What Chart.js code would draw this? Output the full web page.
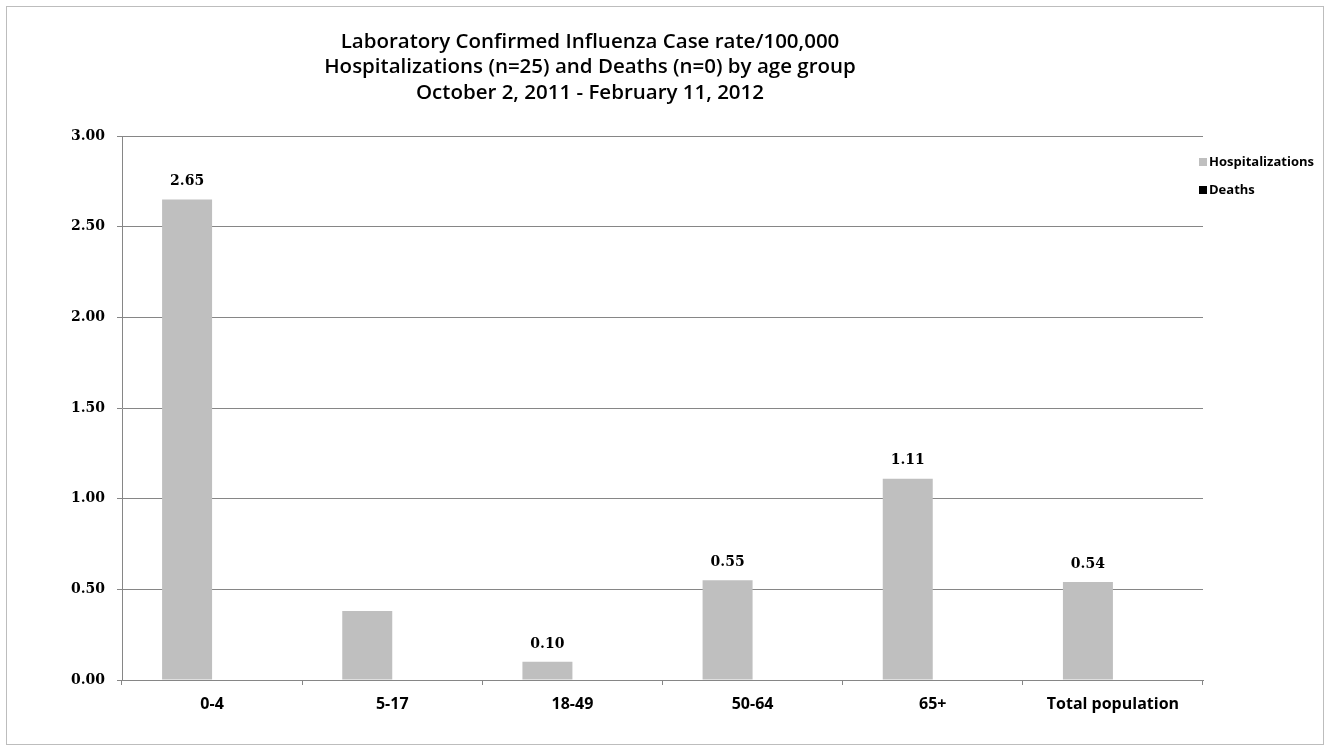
<!DOCTYPE html>
<html lang="en">
<head>
    <meta charset="UTF-8">
    <title>Influenza Case rate</title>
    <script src="https://cdn.jsdelivr.net/npm/chart.js"></script>
    <style>
        html, body { margin: 0; padding: 0; background: #fff; }
        .chart-container { width: 1328px; height: 749px; }
    </style>
</head>
<body>
    <div class="chart-container">
        <canvas id="fluChart"></canvas>
    </div>
    <script>
        // Data
        const titleLines = [
            'Laboratory Confirmed Influenza Case rate/100,000',
            'Hospitalizations (n=25) and Deaths (n=0) by age group',
            'October 2, 2011 - February 11, 2012'
        ];
        const ageGroups = ['0-4', '5-17', '18-49', '50-64', '65+', 'Total population'];
        const hospitalizations = [2.65, 0.38, 0.10, 0.55, 1.11, 0.54];
        const hospLabels = ['2.65', null, '0.10', '0.55', '1.11', '0.54'];
        const deaths = [0, 0, 0, 0, 0, 0];
        const yTicks = [0, 0.5, 1, 1.5, 2, 2.5, 3];

        const numFont = 'DejaVu Serif';
        const textFont = 'Open Sans';

        // frame + title + value labels + legend
        const decorations = {
            id: 'decorations',
            beforeDraw(chart) {
                const ctx = chart.ctx;
                ctx.save();
                ctx.fillStyle = '#fff';
                ctx.fillRect(0, 0, chart.width, chart.height);
                ctx.strokeStyle = '#bdbdbd';
                ctx.lineWidth = 1;
                ctx.strokeRect(6.5, 6.5, 1317, 738);
                ctx.restore();
            },
            afterDraw(chart) {
                const ctx = chart.ctx;
                ctx.save();
                // title
                ctx.fillStyle = '#000';
                ctx.font = '600 20.5px "' + textFont + '"';
                ctx.textAlign = 'center';
                ctx.textBaseline = 'middle';
                titleLines.forEach((line, i) => ctx.fillText(line, 590, 42 + i * 25.5));

                // value labels
                ctx.font = 'bold 14px "' + numFont + '"';
                const meta = chart.getDatasetMeta(0);
                meta.data.forEach((bar, i) => {
                    if (hospLabels[i]) ctx.fillText(hospLabels[i], bar.x, bar.y - 18);
                });

                // legend
                ctx.textAlign = 'left';
                ctx.font = 'bold 13px "' + textFont + '"';
                chart.data.datasets.forEach((ds, i) => {
                    const y = 162 + i * 28;
                    ctx.fillStyle = ds.backgroundColor;
                    ctx.fillRect(1199, y - 4, 8, 8);
                    ctx.fillStyle = '#000';
                    ctx.fillText(ds.label, 1209, y);
                });
                ctx.restore();
            }
        };

        const ctx = document.getElementById('fluChart').getContext('2d');
        new Chart(ctx, {
            type: 'bar',
            data: {
                labels: ageGroups,
                datasets: [
                    { label: 'Hospitalizations', data: hospitalizations, backgroundColor: '#bfbfbf' },
                    { label: 'Deaths', data: deaths, backgroundColor: '#000000' }
                ]
            },
            options: {
                responsive: true,
                maintainAspectRatio: false,
                animation: false,
                categoryPercentage: 0.555,
                barPercentage: 1,
                layout: { padding: { top: 136, right: 125, left: 0, bottom: 0 } },
                plugins: {
                    legend: { display: false },
                    title: { display: false },
                    tooltip: { enabled: false }
                },
                scales: {
                    x: {
                        afterFit: scale => { scale.height = 69; },
                        grid: { drawOnChartArea: false, color: '#868686', tickLength: 5 },
                        border: { color: '#868686' },
                        ticks: {
                            color: '#000',
                            padding: 10,
                            font: { family: textFont, size: 16, weight: 'bold' }
                        }
                    },
                    y: {
                        min: 0,
                        max: 3,
                        afterFit: scale => { scale.width = 122; },
                        afterBuildTicks: scale => { scale.ticks = yTicks.map(v => ({ value: v })); },
                        grid: { color: '#868686', tickLength: 5 },
                        border: { color: '#868686' },
                        ticks: {
                            color: '#000',
                            padding: 12,
                            font: { family: numFont, size: 14, weight: 'bold' },
                            callback: v => v.toFixed(2)
                        }
                    }
                }
            },
            plugins: [decorations]
        });
    </script>
</body>
</html>
